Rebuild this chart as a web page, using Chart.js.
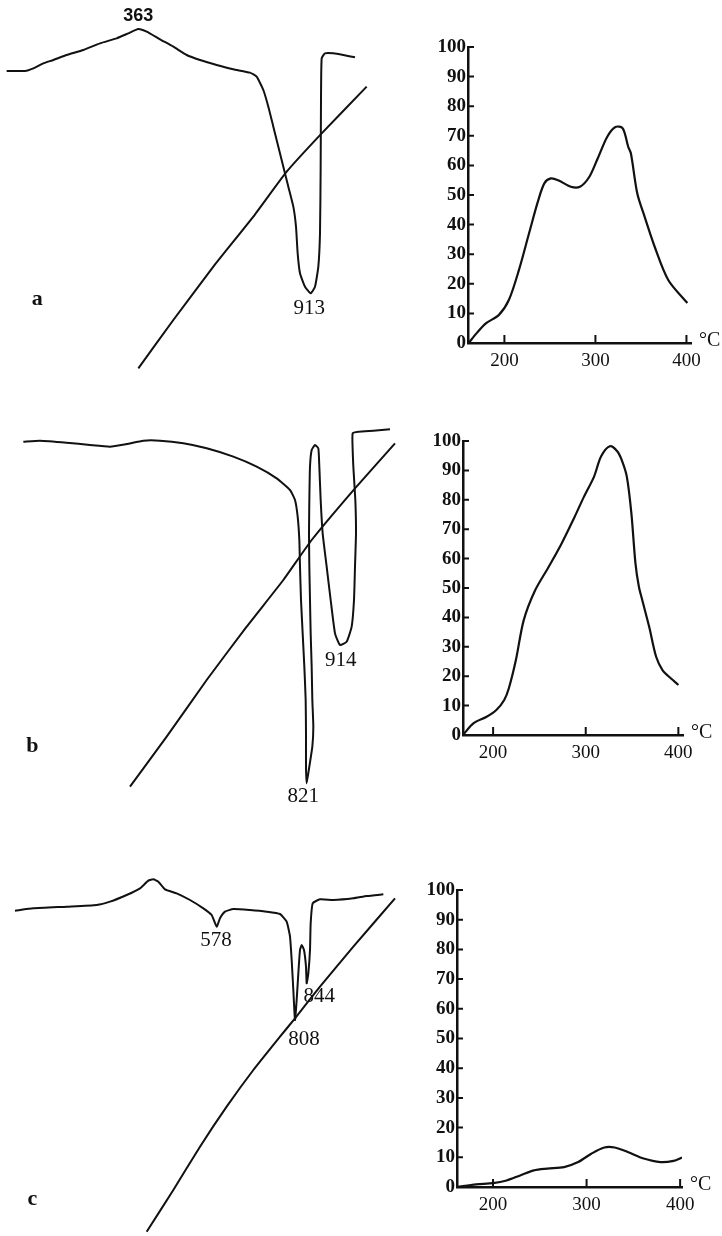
<!DOCTYPE html>
<html lang="en">
<head>
    <meta charset="UTF-8">
    <title>DTA curves and yield vs temperature</title>
    <script src="https://cdn.jsdelivr.net/npm/chart.js"></script>
    <style>
        body {
            margin: 0;
            background: #fff;
        }
        .page {
            position: relative;
            width: 722px;
            height: 1236px;
            overflow: hidden;
            background: #fff;
        }
        canvas {
            position: absolute;
        }
    </style>
</head>
<body>
<div class="page">
    <canvas id="dtaA" width="400" height="380" style="left:0;top:0"></canvas>
    <canvas id="dtaB" width="420" height="420" style="left:0;top:400px"></canvas>
    <canvas id="dtaC" width="420" height="386" style="left:0;top:850px"></canvas>
    <canvas id="yieldA" width="312" height="360" style="left:410px;top:20px"></canvas>
    <canvas id="yieldB" width="312" height="370" style="left:410px;top:410px"></canvas>
    <canvas id="yieldC" width="312" height="376" style="left:410px;top:860px"></canvas>
</div>

<script>
    // right hand panels: value (0-100) against temperature (°C)
    const yTickValues = [0, 10, 20, 30, 40, 50, 60, 70, 80, 90, 100];
    const xTickValues = [200, 300, 400];

    const aTemp  = [160.7, 170, 180, 194, 205, 216, 227, 237, 244, 251, 259, 273, 283, 293, 302, 313, 322, 330, 336, 339, 346, 354, 365, 380, 401];
    const aValue = [0, 3.5, 6.7, 9.5, 14.6, 24.7, 37, 48, 54, 55.6, 55, 52.8, 52.8, 56, 62, 69.7, 73, 72.5, 66.3, 64, 50.5, 42.7, 32.6, 21.3, 13.5];

    const bTemp  = [167.5, 179, 193, 203.5, 212, 217, 224.6, 233, 245, 259.6, 273.7, 287.7, 298, 309, 316.5, 326, 334, 339, 344.4, 349.3, 353.7, 357.4, 361, 368.5, 376, 383, 390, 400];
    const bValue = [0, 4, 6.2, 8.5, 11.9, 15.9, 25.5, 39, 49, 57, 65, 74, 81, 87.9, 94.7, 98.2, 96.5, 93.4, 87.8, 75.3, 58.3, 50.4, 45.9, 36.8, 26.6, 22, 19.8, 17];

    const cTemp  = [161.5, 182, 200, 214.5, 229, 243.6, 258, 276, 291, 305, 319, 330, 344, 361, 379, 393, 402];
    const cValue = [0, 0.9, 1.3, 2.2, 3.9, 5.6, 6.2, 6.7, 8.4, 11.2, 13.3, 13.3, 11.8, 9.6, 8.4, 8.8, 9.9];

    // left hand panels: DTA traces, no scale on the original, read in trace units
    const aDtaX = [20, 75, 100, 130, 160, 200, 250, 300, 350, 385, 415, 440, 480, 520, 560, 600, 650, 700, 750, 770, 790, 805, 820, 835, 850, 865, 880, 888, 893, 900, 915, 932, 945, 955, 960, 962, 963, 965, 975, 1000, 1030, 1065];
    const aDtaY = [213, 213, 205, 190, 180, 165, 150, 130, 115, 100, 87, 95, 118, 140, 165, 180, 195, 208, 218, 230, 270, 320, 380, 440, 500, 560, 620, 680, 760, 820, 860, 880, 860, 800, 700, 500, 300, 175, 160, 160, 165, 172];
    const aTcX = [415, 520, 640, 760, 860, 965, 1100];
    const aTcY = [1105, 960, 800, 650, 515, 400, 260];

    const bDtaX = [70, 120, 200, 270, 330, 380, 430, 480, 550, 620, 700, 770, 830, 870, 885, 893, 898, 900, 903, 908, 913, 917, 918, 918, 920, 928, 937, 940, 937, 935, 932, 930, 928, 927, 928, 930, 935, 945, 955, 958, 962, 968, 980, 992, 1005, 1020, 1040, 1055, 1062, 1065, 1068, 1066, 1060, 1058, 1058, 1075, 1120, 1170];
    const bDtaY = [125, 122, 128, 135, 140, 132, 122, 122, 130, 145, 170, 200, 235, 270, 300, 350, 420, 500, 600, 700, 800, 900, 1000, 1100, 1150, 1100, 1040, 980, 900, 800, 700, 600, 500, 400, 300, 200, 150, 135, 145, 200, 300, 400, 500, 600, 700, 735, 725, 680, 600, 500, 400, 300, 200, 150, 100, 95, 92, 88];
    const bTcX = [390, 500, 620, 740, 850, 935, 1065, 1185];
    const bTcY = [1160, 1010, 840, 680, 540, 420, 265, 130];

    const cDtaX = [45, 100, 200, 290, 330, 380, 420, 445, 460, 475, 495, 530, 570, 610, 635, 650, 660, 675, 700, 750, 800, 840, 860, 870, 875, 880, 885, 890, 895, 900, 905, 912, 918, 920, 925, 930, 932, 938, 960, 1000, 1060, 1100, 1150];
    const cDtaY = [182, 175, 170, 165, 155, 135, 115, 92, 88, 95, 118, 130, 150, 175, 195, 230, 205, 185, 177, 180, 185, 192, 215, 260, 330, 420, 510, 450, 370, 300, 285, 300, 350, 400, 370, 300, 220, 160, 148, 150, 145, 138, 133];
    const cTcX = [440, 520, 600, 680, 760, 840, 885, 960, 1060, 1185];
    const cTcY = [1145, 1020, 890, 770, 660, 560, 505, 410, 290, 145];

    const zip = (xs, ys) => xs.map((x, i) => ({ x: x, y: ys[i] }));

    // writes the peak numbers and panel letters at trace coordinates
    const notesPlugin = {
        id: 'notes',
        afterDraw(chart, args, opts) {
            const ctx = chart.ctx;
            const sx = chart.scales.x, sy = chart.scales.y;
            ctx.save();
            ctx.fillStyle = '#111';
            ctx.textAlign = 'center';
            ctx.textBaseline = 'middle';
            (opts.items || []).forEach(n => {
                ctx.font = n.font;
                ctx.fillText(n.text, sx.getPixelForValue(n.x), sy.getPixelForValue(n.y));
            });
            ctx.restore();
        }
    };

    function dtaChart(id, maxX, maxY, dta, tc, notes) {
        const line = (pts) => ({
            data: pts,
            showLine: true,
            borderColor: '#111',
            borderWidth: 2,
            pointRadius: 0,
            tension: 0.15,
            fill: false
        });
        new Chart(document.getElementById(id), {
            type: 'scatter',
            data: { datasets: [line(dta), line(tc)] },
            options: {
                responsive: false,
                animation: false,
                clip: false,
                layout: { padding: 0 },
                scales: {
                    x: { type: 'linear', min: 0, max: maxX, display: false },
                    y: { type: 'linear', min: 0, max: maxY, reverse: true, display: false }
                },
                plugins: {
                    legend: { display: false },
                    tooltip: { enabled: false },
                    notes: { items: notes }
                }
            },
            plugins: [notesPlugin]
        });
    }

    const numFont = '21px "Liberation Serif", serif';
    const letterFont = 'bold 22px "Liberation Serif", serif';

    dtaChart('dtaA', 1200, 1140, zip(aDtaX, aDtaY), zip(aTcX, aTcY), [
        { text: '363', x: 415, y: 48, font: 'bold 18px "Liberation Sans", sans-serif' },
        { text: '913', x: 928, y: 925, font: numFont },
        { text: 'a', x: 112, y: 898, font: letterFont }
    ]);
    dtaChart('dtaB', 1260, 1260, zip(bDtaX, bDtaY), zip(bTcX, bTcY), [
        { text: '914', x: 1022, y: 780, font: numFont },
        { text: '821', x: 910, y: 1188, font: numFont },
        { text: 'b', x: 97, y: 1040, font: letterFont }
    ]);
    dtaChart('dtaC', 1260, 1158, zip(cDtaX, cDtaY), zip(cTcX, cTcY), [
        { text: '578', x: 648, y: 272, font: numFont },
        { text: '844', x: 958, y: 438, font: numFont },
        { text: '808', x: 912, y: 568, font: numFont },
        { text: 'c', x: 97, y: 1048, font: letterFont }
    ]);

    // inward tick marks and the °C unit
    const axisDecor = {
        id: 'axisDecor',
        afterDraw(chart) {
            const ctx = chart.ctx;
            const sx = chart.scales.x, sy = chart.scales.y;
            ctx.save();
            ctx.strokeStyle = '#111';
            ctx.lineWidth = 2;
            ctx.beginPath();
            yTickValues.forEach(v => {
                const py = sy.getPixelForValue(v);
                ctx.moveTo(sx.left, py);
                ctx.lineTo(sx.left + 6, py);
            });
            xTickValues.forEach(v => {
                const px = sx.getPixelForValue(v);
                ctx.moveTo(px, sy.bottom);
                ctx.lineTo(px, sy.bottom - 8);
            });
            ctx.stroke();
            ctx.fillStyle = '#111';
            ctx.font = '20px "Liberation Serif", serif';
            ctx.textAlign = 'left';
            ctx.textBaseline = 'middle';
            ctx.fillText('°C', sx.right + 8, sy.bottom - 2);
            ctx.restore();
        }
    };

    function yieldChart(id, temps, values, minT, maxT, leftW, bottomH, padTop, padRight) {
        new Chart(document.getElementById(id), {
            type: 'scatter',
            data: {
                datasets: [{
                    data: zip(temps, values),
                    showLine: true,
                    borderColor: '#111',
                    borderWidth: 2.2,
                    pointRadius: 0,
                    tension: 0.3,
                    fill: false
                }]
            },
            options: {
                responsive: false,
                animation: false,
                layout: { padding: { top: padTop, right: padRight, left: 0, bottom: 0 } },
                scales: {
                    x: {
                        type: 'linear',
                        min: minT,
                        max: maxT,
                        afterBuildTicks: s => { s.ticks = xTickValues.map(v => ({ value: v })); },
                        afterFit: s => { s.height = bottomH; },
                        grid: { display: true, drawOnChartArea: false, drawTicks: false },
                        border: { display: true, color: '#111', width: 2.5 },
                        ticks: {
                            color: '#111',
                            padding: 7,
                            font: { family: '"Liberation Serif", serif', size: 19 }
                        }
                    },
                    y: {
                        type: 'linear',
                        min: 0,
                        max: 100,
                        afterBuildTicks: s => { s.ticks = yTickValues.map(v => ({ value: v })); },
                        afterFit: s => { s.width = leftW; },
                        grid: { display: true, drawOnChartArea: false, drawTicks: false },
                        border: { display: true, color: '#111', width: 2.5 },
                        ticks: {
                            color: '#111',
                            padding: 2,
                            font: { family: '"Liberation Serif", serif', size: 19, weight: 'bold' }
                        }
                    }
                },
                plugins: {
                    legend: { display: false },
                    tooltip: { enabled: false }
                }
            },
            plugins: [axisDecor]
        });
    }

    yieldChart('yieldA', aTemp, aValue, 160, 405, 58, 37, 27, 31);
    yieldChart('yieldB', bTemp, bValue, 167.5, 405, 53, 45, 31, 39);
    yieldChart('yieldC', cTemp, cValue, 161.5, 402, 47, 49, 30, 40);
</script>
</body>
</html>
